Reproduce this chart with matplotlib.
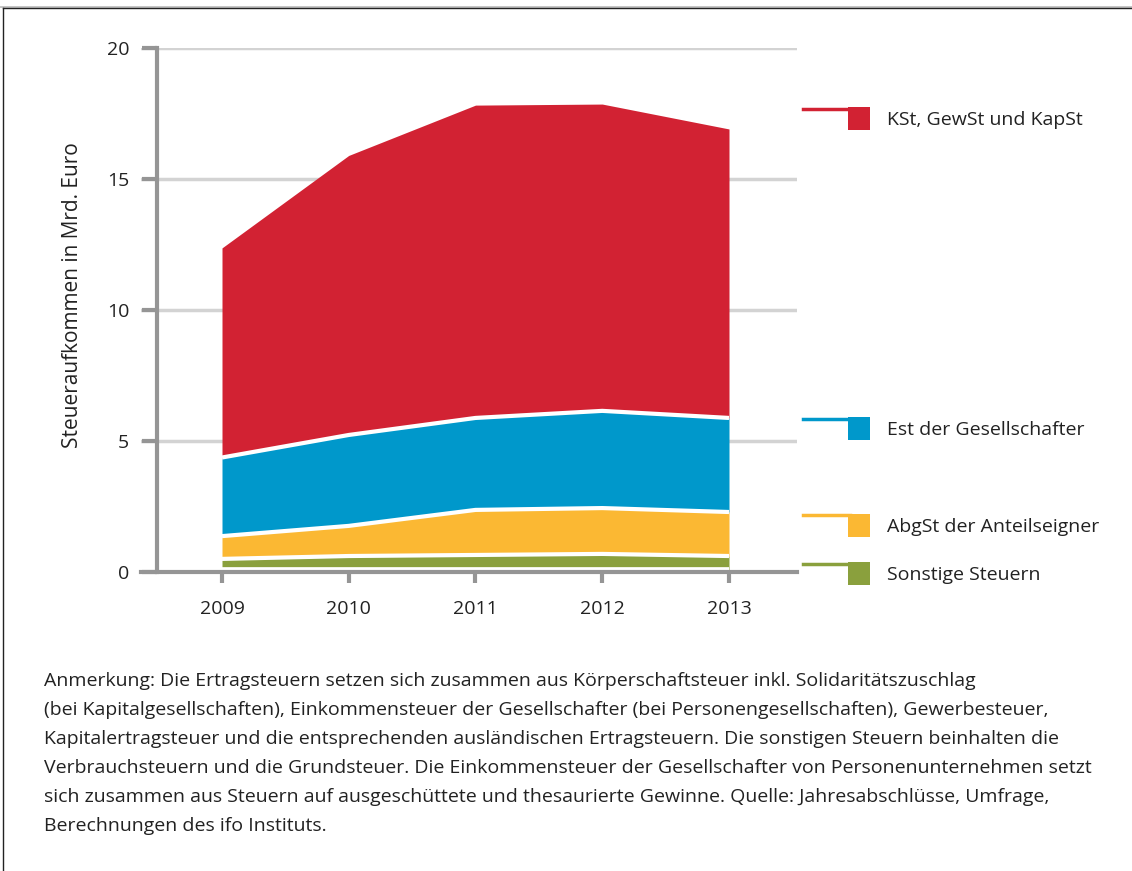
import matplotlib.pyplot as plt
from matplotlib.patches import Rectangle
from matplotlib.lines import Line2D

years = [2009, 2010, 2011, 2012, 2013]
sonstige = [0.50, 0.61, 0.65, 0.69, 0.61]
abgst = [0.87, 1.15, 1.72, 1.75, 1.68]
est = [3.00, 3.47, 3.51, 3.71, 3.59]
kst = [8.00, 10.67, 11.94, 11.71, 11.03]

labels = ['Sonstige Steuern', 'AbgSt der Anteilseigner',
          'Est der Gesellschafter', 'KSt, GewSt und KapSt']
colors = ['#8aa03d', '#fbb833', '#0098cb', '#d22233']
yticks = [0, 5, 10, 15, 20]

note = [
    'Anmerkung: Die Ertragsteuern setzen sich zusammen aus Körperschaftsteuer inkl. Solidaritätszuschlag',
    '(bei Kapitalgesellschaften), Einkommensteuer der Gesellschafter (bei Personengesellschaften), Gewerbesteuer,',
    'Kapitalertragsteuer und die entsprechenden ausländischen Ertragsteuern. Die sonstigen Steuern beinhalten die',
    'Verbrauchsteuern und die Grundsteuer. Die Einkommensteuer der Gesellschafter von Personenunternehmen setzt',
    'sich zusammen aus Steuern auf ausgeschüttete und thesaurierte Gewinne. Quelle: Jahresabschlüsse, Umfrage,',
    'Berechnungen des ifo Instituts.',
]

plt.rcParams['font.family'] = ['Open Sans', 'DejaVu Sans']
grey = '#959595'
txt = '#222222'

fig = plt.figure(figsize=(11.32, 8.71), dpi=100)
ax = fig.add_axes([141 / 1132, 1 - 572 / 871, 656 / 1132, 524 / 871])

# stacked areas
series = [sonstige, abgst, est, kst]
base = [0.0] * len(years)
for vals, col in zip(series, colors):
    top = [b + v for b, v in zip(base, vals)]
    ax.fill_between(years, base, top, color=col, linewidth=0, zorder=2)
    base = top
# white separators
base = [0.0] * len(years)
ax.plot(years, base, color='white', linewidth=7, zorder=3, solid_capstyle='butt')
for vals in series[:-1]:
    base = [b + v for b, v in zip(base, vals)]
    ax.plot(years, base, color='white', linewidth=3, zorder=3, solid_capstyle='butt')

x0 = 2009 - 81 / 126.75
x1 = 2013 + 68 / 126.75
ax.set_xlim(x0, x1)
ax.set_ylim(0, 20)
ax.set_xticks(years)
ax.set_yticks(yticks)
ax.yaxis.grid(True, color='#d3d3d3', linewidth=2.5, zorder=0)
ax.set_axisbelow(True)

for s in ['top', 'right']:
    ax.spines[s].set_visible(False)
ax.spines['left'].set_position(('axes', 16 / 656))
ax.spines['left'].set_color(grey)
ax.spines['left'].set_linewidth(3)
ax.spines['bottom'].set_color(grey)
ax.spines['bottom'].set_linewidth(3)
ax.spines['bottom'].set_zorder(5)
ax.tick_params(axis='y', length=11, width=3, color=grey, labelsize=14,
               labelcolor=txt, pad=9)
ax.tick_params(axis='x', length=8, width=3, color=grey, labelsize=14,
               labelcolor=txt, pad=12)
ax.set_ylabel('Steueraufkommen in Mrd. Euro', fontsize=15, color=txt)
ax.yaxis.set_label_coords(-0.089, 0.528)

# legend on the right
leg_y = [573, 525, 428, 118]
for lab, col, yc in zip(labels, colors, leg_y):
    fy = 1 - yc / 871
    fig.add_artist(Rectangle((848 / 1132, fy - 12 / 871), 22 / 1132, 23 / 871,
                             transform=fig.transFigure, color=col, linewidth=0))
    fig.add_artist(Line2D([803 / 1132, 850 / 1132], [fy + 9.5 / 871] * 2,
                          transform=fig.transFigure, color=col, linewidth=2.5))
    fig.text(887 / 1132, fy - 1.5 / 871, lab, fontsize=14, color=txt,
             va='center', ha='left')

# note text
for i, line in enumerate(note):
    fig.text(44 / 1132, 1 - (681 + 29 * i) / 871, line, fontsize=14,
             color=txt, va='center', ha='left')

# frame
fig.add_artist(Line2D([0, 1], [1 - 7 / 871] * 2, transform=fig.transFigure,
                      color='#bbbbbb', linewidth=1.2))
fig.add_artist(Line2D([3 / 1132, 1], [1 - 8.5 / 871] * 2, transform=fig.transFigure,
                      color=txt, linewidth=1))
fig.add_artist(Line2D([3 / 1132] * 2, [0, 1 - 8.5 / 871], transform=fig.transFigure,
                      color=txt, linewidth=1))

fig.savefig('out.png', dpi=100)
